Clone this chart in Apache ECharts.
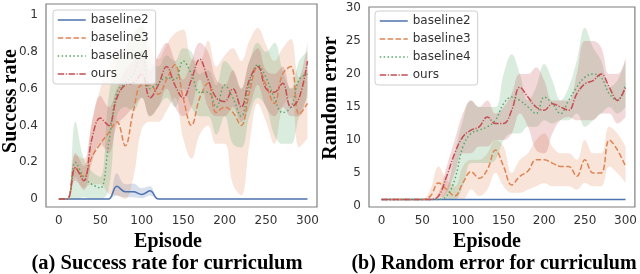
<!DOCTYPE html>
<html>
<head>
<meta charset="utf-8">
<script src="https://cdn.jsdelivr.net/npm/echarts@6/dist/echarts.min.js"></script>
<style>
html,body{margin:0;padding:0;background:#fff;}
#c{width:640px;height:274px;}
</style>
</head>
<body>
<div id="c"></div>
<script>
// ---- data ----
const episodes = [0,10,20,30,40,50,60,70,80,90,100,110,120,130,140,150,160,170,180,190,200,210,220,230,240,250,260,270,280,290,300];
const seriesNames = ['baseline2','baseline3','baseline4','ours'];
const xTicks = [0,50,100,150,200,250,300];
const srTicks = [0,0.2,0.4,0.6,0.8,1];
const reTicks = [0,5,10,15,20,25,30];

// (a) success rate
const sr_b2_mean = [0,0,0,0,0,0,0,0.07,0.04,0.04,0.025,0.045,0,0,0,0,0,0,0,0,0,0,0,0,0,0,0,0,0,0,0];
const sr_b2_lo   = [0,0,0,0,0,0,0,0.02,0.01,0.01,0.005,0.02,0,0,0,0,0,0,0,0,0,0,0,0,0,0,0,0,0,0,0];
const sr_b2_hi   = [0,0,0,0,0,0,0,0.14,0.08,0.085,0.06,0.07,0,0,0,0,0,0,0,0,0,0,0,0,0,0,0,0,0,0,0];
const sr_b3_mean = [0,0,0.17,0.12,0.23,0.3,0.36,0.42,0.29,0.48,0.62,0.62,0.57,0.65,0.73,0.55,0.4,0.55,0.63,0.47,0.5,0.47,0.4,0.58,0.72,0.62,0.52,0.68,0.72,0.46,0.52];
const sr_b3_lo   = [0,0,0.12,0.06,0.08,0.08,0.03,0.02,0.0,0.12,0.38,0.42,0.42,0.48,0.55,0.33,0.22,0.35,0.4,0.3,0.3,0.08,0.02,0.3,0.52,0.42,0.3,0.5,0.55,0.28,0.33];
const sr_b3_hi   = [0,0,0.24,0.22,0.42,0.6,0.72,0.8,0.82,0.9,0.93,0.82,0.76,0.84,0.9,0.92,0.76,0.75,0.86,0.72,0.78,0.82,0.75,0.86,0.93,0.84,0.75,0.82,0.87,0.66,0.72];
const sr_b4_mean = [0,0,0.2,0.12,0.08,0.06,0.3,0.58,0.63,0.68,0.8,0.6,0.63,0.66,0.65,0.75,0.68,0.58,0.58,0.5,0.62,0.55,0.45,0.62,0.73,0.66,0.55,0.47,0.5,0.65,0.68];
const sr_b4_lo   = [0,0,0,0.01,0,0,0.05,0.45,0.5,0.48,0.55,0.45,0.5,0.55,0.5,0.6,0.5,0.45,0.45,0.35,0.45,0.3,0.28,0.45,0.55,0.5,0.35,0.3,0.3,0.45,0.55];
const sr_b4_hi   = [0,0,0.42,0.22,0.15,0.12,0.55,0.75,0.82,0.9,0.95,0.75,0.72,0.78,0.75,0.82,0.8,0.68,0.7,0.62,0.75,0.7,0.6,0.75,0.85,0.8,0.85,0.7,0.6,0.75,0.8];
const sr_ours_mean = [0,0,0.17,0.1,0.33,0.44,0.4,0.55,0.62,0.63,0.68,0.55,0.62,0.72,0.62,0.55,0.65,0.76,0.65,0.55,0.53,0.6,0.5,0.65,0.72,0.6,0.58,0.63,0.5,0.55,0.75];
const sr_ours_lo   = [0,0,0.1,0.05,0.2,0.3,0.25,0.4,0.45,0.5,0.55,0.45,0.5,0.6,0.5,0.45,0.5,0.65,0.5,0.45,0.45,0.5,0.42,0.5,0.62,0.5,0.45,0.5,0.45,0.45,0.6];
const sr_ours_hi   = [0,0,0.25,0.18,0.42,0.56,0.5,0.6,0.7,0.75,0.8,0.7,0.78,0.85,0.75,0.65,0.75,0.85,0.8,0.65,0.62,0.7,0.6,0.75,0.82,0.7,0.68,0.72,0.6,0.65,0.85];

// (b) random error
const re_b2_mean = [1,1,1,1,1,1,1,1,1,1,1,1,1,1,1,1,1,1,1,1,1,1,1,1,1,1,1,1,1,1,1];
const re_b3_mean = [1,1,1,1,1,1,1.5,3.5,2.5,1.5,3.5,5.2,4.2,5.5,8.5,6,3.2,4.5,5.3,7,7,6.5,6,6,4.5,7,5,5,10,8.5,6];
const re_b3_lo   = [1,1,1,1,1,1,1,1.5,1,1,1,2.5,1.5,2.5,5,3,2,2,2.5,3,3.5,3,3,3,2.5,3.5,3,3,6,5,3.5];
const re_b3_hi   = [1,1,1,1,1,1,2.5,6,4,3,6,7,7,8,10,9,5,7,8,10,11,9,8,8,7,10,8,8,12,11,9];
const re_b4_mean = [1,1,1,1,1,1,1,1,1.5,4,9,11,11.5,12,13,15.5,16.5,16,15,14,16.5,15.5,14,16,18,19.5,20,19.5,17,16,18.5];
const re_b4_lo   = [1,1,1,1,1,1,1,1,1,1,3,6.5,6.5,6.5,7,10,11,11,12,12,13,12.5,13,13,14,12,13,14,15,14,15];
const re_b4_hi   = [1,1,1,1,1,1,1,1,2.5,8,13,16,15,15,15,20,23,20,16,18,21.5,19,16,18,22,27,24,22,18,19,22];
const re_ours_mean = [1,1,1,1,1,1,1,1.5,4.5,8,10.5,11.5,12,13.5,12.5,12.5,14.5,18,16.5,15,14.5,15.5,15,14.5,17,18.5,19,20,18,16,18];
const re_ours_lo   = [1,1,1,1,1,1,1,1,2,5,8,8,9,9,10,10,11,14,12,8.5,8,11,13,13.5,13,13,13,14,14,12.5,13.5];
const re_ours_hi   = [1,1,1,1,1,1,1,2,6,10,14,16,15,16,14,15,17,20,20,21,19,16,16,16,20,25,25,24,20,20,22.5];

// ---- styles ----
const colors = {baseline2:'#4C72B0', baseline3:'#DD8452', baseline4:'#55A868', ours:'#C44E52'};
const dashes = {baseline2:'solid', baseline3:[5.5,2.4], baseline4:[1.5,2.4], ours:[6.4,1.6,1.2,1.6]};
const tickFont = 'DejaVu Sans';
const serif = '"Liberation Serif", "Times New Roman", serif';
const SMOOTH = 0.4;

const panels = [
  {mean:[sr_b2_mean,sr_b3_mean,sr_b4_mean,sr_ours_mean], lo:[sr_b2_lo,sr_b3_lo,sr_b4_lo,sr_ours_lo], hi:[sr_b2_hi,sr_b3_hi,sr_b4_hi,sr_ours_hi]},
  {mean:[re_b2_mean,re_b3_mean,re_b4_mean,re_ours_mean], lo:[null,re_b3_lo,re_b4_lo,re_ours_lo], hi:[null,re_b3_hi,re_b4_hi,re_ours_hi]}
];

const series = [];
panels.forEach((p, gi) => {
  seriesNames.forEach((nm, si) => {
    const lo = p.lo[si], hi = p.hi[si];
    if (lo && hi) {
      const stackId = 'band_' + gi + '_' + nm;
      // value first, episode second -> the stacked dimension is the y value
      series.push({
        type:'line', name: nm + '_lo_' + gi, xAxisIndex:gi, yAxisIndex:gi, stack:stackId,
        encode:{x:1, y:0},
        data: episodes.map((e,i)=>[lo[i], e]), symbol:'none', smooth:SMOOTH, silent:true,
        lineStyle:{opacity:0}, z:1
      });
      series.push({
        type:'line', name: nm + '_band_' + gi, xAxisIndex:gi, yAxisIndex:gi, stack:stackId,
        encode:{x:1, y:0},
        data: episodes.map((e,i)=>[hi[i]-lo[i], e]), symbol:'none', smooth:SMOOTH, silent:true,
        lineStyle:{opacity:0}, areaStyle:{color:colors[nm], opacity:0.22}, z:1
      });
    }
  });
  seriesNames.forEach((nm, si) => {
    series.push({
      type:'line', name:nm, xAxisIndex:gi, yAxisIndex:gi,
      data: episodes.map((e,i)=>[e, p.mean[si][i]]), symbol:'none', smooth:SMOOTH,
      lineStyle:{color:colors[nm], width:1.5, type:dashes[nm]},
      itemStyle:{color:colors[nm]}, z:3
    });
  });
});

function xAxisCfg(gi){
  return {type:'value', gridIndex:gi, min:-15.5, max:311.5,
    axisLine:{show:false}, axisTick:{show:false}, splitLine:{show:false},
    axisLabel:{customValues:xTicks, color:'#333', fontFamily:tickFont, fontSize:12, margin:8}};
}
function yAxisCfg(gi, min, max, ticks, fmt){
  return {type:'value', gridIndex:gi, min:min, max:max,
    axisLine:{show:false}, axisTick:{show:false}, splitLine:{show:false},
    axisLabel:{customValues:ticks, color:'#333', fontFamily:tickFont, fontSize:12, margin:8, formatter:fmt}};
}

function legendCfg(left, top){
  return {data:seriesNames, orient:'vertical', left:left, top:top, itemWidth:28, itemHeight:12, itemGap:6,
    padding:[4,7,4,4], backgroundColor:'rgba(255,255,255,0.8)', borderColor:'#cfcfcf', borderWidth:1, borderRadius:3,
    itemStyle:{opacity:0}, lineStyle:{width:1.5},
    textStyle:{color:'#333', fontFamily:tickFont, fontSize:12}, selectedMode:false};
}

const titleStyle = (t, size) => ({text:t, font:'bold ' + size + 'px ' + serif, fill:'#000', textAlign:'center', textVerticalAlign:'middle'});

const option = {
  animation:false,
  backgroundColor:'#fff',
  grid:[
    {left:46, top:4, width:271, height:203, show:true, borderColor:'#7f7f7f', borderWidth:1.2, backgroundColor:'transparent'},
    {left:369, top:7, width:266, height:200, show:true, borderColor:'#7f7f7f', borderWidth:1.2, backgroundColor:'transparent'}
  ],
  xAxis:[xAxisCfg(0), xAxisCfg(1)],
  yAxis:[
    yAxisCfg(0, -0.043, 1.06, srTicks, v => String(Math.round(v*10)/10)),
    yAxisCfg(1, -0.15, 30.15, reTicks, v => String(v))
  ],
  legend:[legendCfg(53, 10), legendCfg(375, 11)],
  series:series,
  graphic:[
    {type:'text', x:168, y:242, style:titleStyle('Episode', 20)},
    {type:'text', x:167, y:264, style:titleStyle('(a) Success rate for curriculum', 20.5)},
    {type:'text', x:487, y:242, style:titleStyle('Episode', 20)},
    {type:'text', x:494, y:264, style:titleStyle('(b) Random error for curriculum', 20)},
    {type:'text', x:11, y:101, rotation:Math.PI/2, style:titleStyle('Success rate', 20)},
    {type:'text', x:331, y:98, rotation:Math.PI/2, style:titleStyle('Random error', 20)}
  ]
};

const chart = echarts.init(document.getElementById('c'), null, {renderer:'canvas'});
chart.setOption(option);
</script>
</body>
</html>
